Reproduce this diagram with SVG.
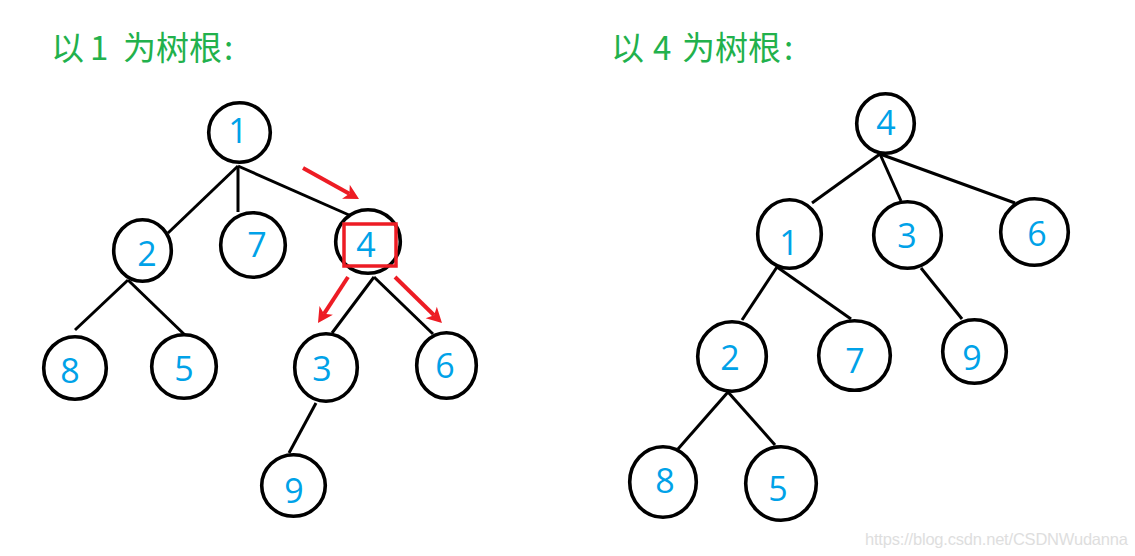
<svg xmlns="http://www.w3.org/2000/svg" width="1135" height="556" viewBox="0 0 1135 556">
<style>
.n ellipse{fill:#fff;stroke:#000;stroke-width:3.6}
.n text{font-family:"Open Sans","Noto Sans",sans-serif;font-size:34px;fill:#00a2e8;text-anchor:middle}
.e line{stroke:#000;stroke-width:3}
.r{stroke:#ed1c24;stroke-width:4;fill:none}
.t{font-family:"Noto Sans CJK SC","Noto Sans",sans-serif;font-size:33px;fill:#22b14c}
.wm{font-family:"Liberation Sans",Arial,sans-serif;font-size:16.5px;fill:#dedede}
</style>
<defs>
<marker id="ah" markerUnits="userSpaceOnUse" markerWidth="20" markerHeight="20" refX="4" refY="0" viewBox="-1 -10 20 20" orient="auto">
<path d="M0,-8 L15,0 L0,8 L4,0 Z" fill="#ed1c24"/>
</marker>
</defs>
<rect width="1135" height="556" fill="#fff"/>
<text class="t" y="60"><tspan x="51">以</tspan><tspan x="90">1</tspan><tspan x="123">为树根</tspan><tspan x="224">:</tspan></text>
<text class="t" y="60"><tspan x="611">以</tspan><tspan x="653">4</tspan><tspan x="682">为树根</tspan><tspan x="784">:</tspan></text>
<g id="connectors" class="e">
<line x1="238" y1="166" x2="168" y2="233"/>
<line x1="238" y1="166" x2="238" y2="212"/>
<line x1="238" y1="166" x2="349" y2="215"/>
<line x1="128" y1="280" x2="75" y2="330"/>
<line x1="128" y1="280" x2="187" y2="337"/>
<line x1="374" y1="277" x2="332" y2="333"/>
<line x1="374" y1="277" x2="433" y2="334"/>
<line x1="316" y1="403" x2="289" y2="453"/>
<line x1="880" y1="154" x2="812" y2="203"/>
<line x1="880" y1="154" x2="901" y2="201"/>
<line x1="880" y1="154" x2="1015" y2="203"/>
<line x1="777" y1="267" x2="742" y2="320"/>
<line x1="777" y1="267" x2="851" y2="319"/>
<line x1="921" y1="268" x2="962" y2="319"/>
<line x1="728" y1="392" x2="678" y2="449"/>
<line x1="728" y1="392" x2="775" y2="445"/>
</g>
<g id="L1" class="n"><ellipse cx="239.5" cy="132.5" rx="30.8" ry="29.8"/><text x="238" y="143">1</text></g>
<g id="L7" class="n"><ellipse cx="253" cy="245" rx="32.3" ry="32.3"/><text x="257" y="257">7</text></g>
<g id="L4" class="n"><ellipse cx="368" cy="241.5" rx="32.3" ry="31.8"/><text x="366" y="257">4</text></g>
<g id="L2" class="n"><ellipse cx="142.5" cy="250.5" rx="28.8" ry="30.8"/><text x="147" y="266">2</text></g>
<g id="L8" class="n"><ellipse cx="75" cy="368" rx="31.3" ry="31.3"/><text x="70" y="383">8</text></g>
<g id="L5" class="n"><ellipse cx="184" cy="366.5" rx="32.3" ry="31.8"/><text x="184" y="381">5</text></g>
<g id="L3" class="n"><ellipse cx="326" cy="367.5" rx="31.3" ry="33.8"/><text x="322" y="381">3</text></g>
<g id="L6" class="n"><ellipse cx="446.5" cy="365.5" rx="29.8" ry="32.8"/><text x="445" y="378">6</text></g>
<g id="L9" class="n"><ellipse cx="293.5" cy="485.5" rx="31.8" ry="30.8"/><text x="294" y="503">9</text></g>
<g id="highlight"><rect x="344" y="224" width="52" height="42" fill="none" stroke="#ed1c24" stroke-width="3.5"/></g>
<g id="arrows">
<line class="r" x1="303" y1="168" x2="349.4" y2="193.7" marker-end="url(#ah)"/>
<line class="r" x1="348" y1="277" x2="324" y2="313.8" marker-end="url(#ah)"/>
<line class="r" x1="395" y1="277" x2="434.1" y2="315.3" marker-end="url(#ah)"/>
</g>
<g id="R4" class="n"><ellipse cx="885.5" cy="123.5" rx="28.8" ry="29.8"/><text x="886" y="135">4</text></g>
<g id="R1" class="n"><ellipse cx="789.5" cy="234" rx="31.8" ry="34.3"/><text x="789" y="255">1</text></g>
<g id="R3" class="n"><ellipse cx="907.5" cy="235" rx="33.8" ry="33.3"/><text x="907" y="248">3</text></g>
<g id="R6" class="n"><ellipse cx="1034.5" cy="232" rx="33.8" ry="33.3"/><text x="1037" y="246">6</text></g>
<g id="R2" class="n"><ellipse cx="732" cy="356.5" rx="34.3" ry="34.8"/><text x="730" y="370">2</text></g>
<g id="R7" class="n"><ellipse cx="854.5" cy="355.5" rx="35.8" ry="34.8"/><text x="855" y="373">7</text></g>
<g id="R9" class="n"><ellipse cx="974.5" cy="351.5" rx="31.8" ry="31.8"/><text x="972" y="370">9</text></g>
<g id="R8" class="n"><ellipse cx="663" cy="482" rx="33.3" ry="35.3"/><text x="665" y="493">8</text></g>
<g id="R5" class="n"><ellipse cx="781" cy="483.5" rx="35.3" ry="36.8"/><text x="778" y="501">5</text></g>
<text class="wm" x="865" y="545" textLength="263">https://blog.csdn.net/CSDNWudanna</text>
</svg>
